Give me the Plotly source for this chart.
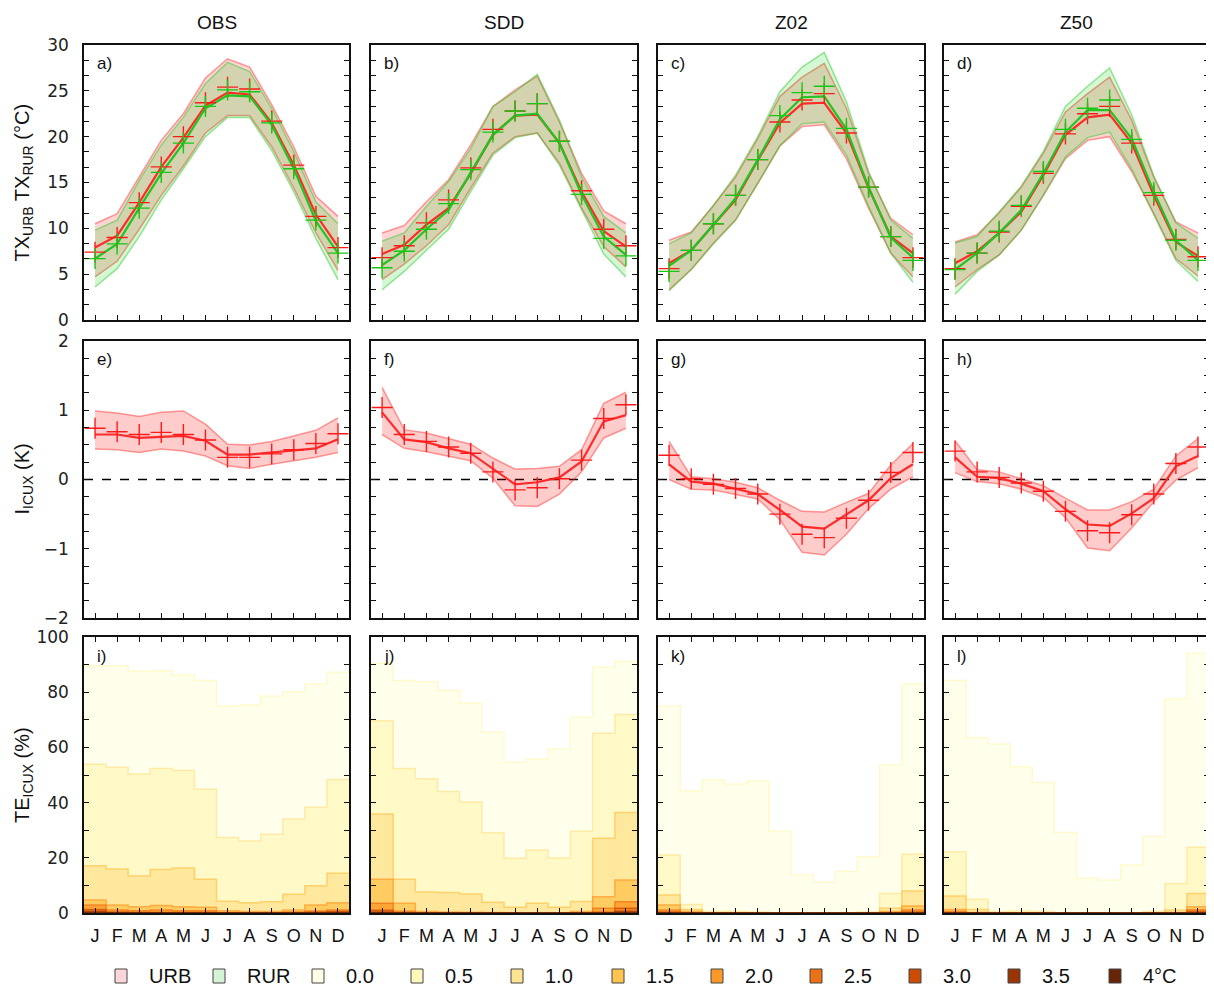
import plotly.graph_objects as go
from plotly.subplots import make_subplots

# ---------------- data ----------------
months = ["J", "F", "M", "A", "M", "J", "J", "A", "S", "O", "N", "D"]
columns = ["OBS", "SDD", "Z02", "Z50"]
panel_labels = ["a)", "b)", "c)", "d)", "e)", "f)", "g)", "h)", "i)", "j)", "k)", "l)"]
thresholds = ["0.0", "0.5", "1.0", "1.5", "2.0", "2.5", "3.0", "3.5", "4°C"]
palette = ["#ffffe5", "#fff7bc", "#fee391", "#fec44f", "#fe9929",
           "#ec7014", "#cc4c02", "#993404", "#662506"]

# Row 1: TX urban / rural (°C)
obs_urb_mean = [7.9, 9.2, 12.8, 16.7, 19.9, 23.4, 24.8, 24.6, 21.5, 16.9, 11.5, 8.0]
obs_urb_pts = [7.4, 9.0, 12.8, 16.7, 20.0, 23.7, 25.4, 25.2, 21.7, 16.9, 11.3, 7.9]
obs_urb_hi = [10.5, 11.6, 15.6, 19.6, 22.5, 26.4, 28.5, 27.6, 23.5, 18.9, 13.5, 11.3]
obs_urb_lo = [4.7, 6.4, 9.9, 13.6, 16.8, 20.4, 22.3, 22.3, 18.9, 14.4, 9.5, 5.4]
obs_rur_mean = [6.7, 8.3, 12.2, 16.0, 19.3, 23.1, 24.5, 24.4, 21.3, 16.5, 10.8, 7.3]
obs_rur_pts = [6.7, 8.3, 12.2, 16.1, 19.3, 23.3, 25.1, 24.9, 21.5, 16.5, 10.9, 7.3]
obs_rur_hi = [9.8, 10.9, 15.2, 19.1, 22.1, 25.8, 28.1, 27.1, 23.1, 18.4, 12.9, 10.5]
obs_rur_lo = [3.6, 5.6, 9.1, 13.1, 16.5, 20.0, 22.1, 22.1, 18.5, 14.0, 8.9, 4.4]

sdd_urb_mean = [7.2, 8.2, 10.4, 12.2, 16.0, 20.2, 22.3, 22.4, 19.3, 14.0, 9.7, 8.0]
sdd_urb_pts = [6.8, 8.1, 10.6, 13.1, 16.6, 20.8, 22.8, 23.6, 19.5, 14.1, 9.9, 8.1]
sdd_urb_hi = [9.5, 10.3, 12.9, 15.3, 19.1, 23.3, 25.1, 26.6, 21.6, 16.0, 11.9, 10.5]
sdd_urb_lo = [4.4, 6.1, 8.1, 10.4, 14.4, 18.2, 20.0, 20.4, 17.1, 12.2, 8.0, 5.8]
sdd_rur_mean = [6.0, 7.6, 9.9, 12.0, 16.1, 20.2, 22.3, 22.5, 19.3, 13.7, 9.1, 7.1]
sdd_rur_pts = [5.7, 7.5, 9.9, 12.7, 16.4, 20.5, 22.8, 23.6, 19.5, 13.7, 8.9, 7.0]
sdd_rur_hi = [8.6, 9.5, 12.4, 15.1, 18.7, 23.3, 24.9, 26.8, 21.8, 15.6, 11.3, 9.5]
sdd_rur_lo = [3.3, 5.3, 7.6, 9.9, 14.0, 18.0, 19.9, 20.4, 16.9, 12.0, 7.2, 4.7]

z02_urb_mean = [6.2, 7.6, 10.4, 13.1, 17.4, 21.5, 23.6, 23.7, 20.4, 14.4, 9.1, 7.3]
z02_urb_pts = [5.6, 7.6, 10.5, 13.6, 17.5, 21.6, 24.0, 24.7, 20.4, 14.5, 9.1, 6.8]
z02_urb_hi = [8.7, 9.6, 12.5, 15.6, 19.8, 24.4, 26.5, 28.0, 23.1, 16.0, 11.1, 9.3]
z02_urb_lo = [3.3, 5.5, 8.4, 10.9, 14.9, 19.0, 21.1, 21.3, 17.6, 12.2, 7.3, 4.7]
z02_rur_mean = [5.9, 7.6, 10.4, 13.3, 17.5, 21.9, 24.3, 24.4, 20.8, 14.5, 9.0, 6.8]
z02_rur_pts = [5.3, 7.6, 10.5, 13.6, 17.5, 22.3, 24.8, 25.5, 20.9, 14.5, 9.1, 6.5]
z02_rur_hi = [8.3, 9.5, 12.5, 15.8, 20.0, 24.9, 27.6, 29.2, 23.8, 16.2, 10.9, 8.9]
z02_rur_lo = [3.2, 5.5, 8.3, 10.9, 14.9, 19.0, 21.4, 21.6, 18.0, 12.4, 7.3, 4.1]

z50_urb_mean = [6.2, 7.5, 9.5, 11.8, 15.8, 20.2, 22.1, 22.4, 19.3, 13.6, 8.5, 7.0]
z50_urb_pts = [5.6, 7.3, 9.6, 12.4, 16.0, 20.3, 22.5, 23.3, 19.3, 13.6, 8.8, 6.9]
z50_urb_hi = [8.5, 9.3, 11.7, 14.5, 18.2, 22.7, 24.7, 26.5, 21.8, 15.6, 10.7, 9.5]
z50_urb_lo = [3.6, 5.5, 7.1, 9.8, 13.6, 17.6, 19.6, 20.0, 16.2, 11.6, 6.7, 4.8]
z50_rur_mean = [5.5, 7.3, 9.5, 12.0, 16.0, 20.5, 22.9, 22.9, 19.8, 14.0, 8.7, 6.5]
z50_rur_pts = [5.5, 7.3, 9.7, 12.5, 16.2, 20.8, 23.1, 24.0, 19.7, 13.9, 8.7, 6.5]
z50_rur_hi = [8.4, 9.1, 11.8, 14.6, 18.4, 23.3, 25.5, 27.5, 22.4, 15.7, 10.6, 8.9]
z50_rur_lo = [2.8, 5.3, 7.1, 9.8, 13.6, 17.8, 19.9, 20.5, 16.5, 11.5, 6.5, 4.2]

# Row 2: ICUX intensity (K)
obs_icux_mean = [0.65, 0.65, 0.60, 0.62, 0.63, 0.56, 0.36, 0.36, 0.39, 0.43, 0.45, 0.58]
obs_icux_pts = [0.74, 0.69, 0.65, 0.68, 0.65, 0.57, 0.32, 0.32, 0.37, 0.43, 0.52, 0.66]
obs_icux_hi = [0.99, 0.96, 0.91, 0.97, 0.99, 0.80, 0.51, 0.50, 0.55, 0.63, 0.71, 0.89]
obs_icux_lo = [0.44, 0.43, 0.39, 0.44, 0.41, 0.34, 0.20, 0.16, 0.22, 0.27, 0.32, 0.39]

sdd_icux_mean = [0.97, 0.58, 0.54, 0.45, 0.38, 0.15, -0.07, -0.04, 0.03, 0.26, 0.84, 0.93]
sdd_icux_pts = [1.04, 0.65, 0.55, 0.47, 0.38, 0.11, -0.15, -0.12, 0.01, 0.28, 0.88, 1.08]
sdd_icux_hi = [1.33, 0.72, 0.67, 0.59, 0.51, 0.31, 0.15, 0.16, 0.19, 0.43, 1.10, 1.26]
sdd_icux_lo = [0.65, 0.45, 0.40, 0.34, 0.27, 0.02, -0.38, -0.39, -0.21, 0.11, 0.60, 0.74]

z02_icux_mean = [0.22, -0.03, -0.06, -0.13, -0.21, -0.44, -0.68, -0.71, -0.51, -0.30, 0.02, 0.22]
z02_icux_pts = [0.35, 0.01, -0.07, -0.13, -0.21, -0.50, -0.79, -0.84, -0.56, -0.30, 0.10, 0.39]
z02_icux_hi = [0.55, 0.04, 0.01, -0.04, -0.12, -0.30, -0.46, -0.47, -0.33, -0.20, 0.21, 0.52]
z02_icux_lo = [0.00, -0.14, -0.15, -0.21, -0.28, -0.58, -1.05, -1.09, -0.79, -0.42, -0.14, 0.04]

z50_icux_mean = [0.32, 0.04, 0.02, -0.06, -0.17, -0.43, -0.65, -0.67, -0.49, -0.27, 0.19, 0.34]
z50_icux_pts = [0.41, 0.11, 0.03, -0.05, -0.17, -0.46, -0.74, -0.77, -0.51, -0.21, 0.23, 0.47]
z50_icux_hi = [0.56, 0.14, 0.11, 0.01, -0.09, -0.27, -0.44, -0.44, -0.32, -0.14, 0.34, 0.59]
z50_icux_lo = [0.10, -0.03, -0.06, -0.14, -0.26, -0.55, -0.99, -1.03, -0.70, -0.32, -0.01, 0.17]

# Row 3: exceedance frequency of ICUX thresholds (%)
obs_te_00 = [89.6, 89.6, 87.7, 87.8, 86.2, 84.2, 75.0, 75.4, 78.6, 80.2, 83.0, 87.2]
obs_te_05 = [53.9, 52.8, 50.4, 52.4, 51.6, 44.8, 27.4, 26.1, 28.5, 34.1, 38.3, 48.4]
obs_te_10 = [17.1, 15.9, 13.4, 15.8, 16.3, 12.2, 4.3, 3.7, 4.1, 6.8, 9.9, 14.4]
obs_te_15 = [4.7, 2.9, 2.3, 2.7, 2.3, 2.1, 0.8, 0.5, 0.5, 1.1, 2.9, 3.7]
obs_te_20 = [2.9, 1.1, 0.8, 1.1, 0.8, 0.8, 0.2, 0.1, 0.1, 0.4, 0.7, 1.1]
obs_te_25 = [1.3, 0.4, 0.2, 0.2, 0.2, 0.2, 0.0, 0.0, 0.0, 0.1, 0.3, 0.5]
obs_te_30 = [0.5, 0.1, 0.0, 0.0, 0.0, 0.0, 0.0, 0.0, 0.0, 0.0, 0.0, 0.2]
obs_te_35 = [0.0] * 12
obs_te_40 = [0.0] * 12

sdd_te_00 = [90.5, 84.2, 83.8, 80.6, 76.0, 65.5, 54.6, 55.7, 59.4, 70.9, 89.0, 91.1]
sdd_te_05 = [69.7, 52.4, 48.6, 44.0, 40.2, 29.1, 19.8, 22.8, 19.9, 29.6, 65.1, 71.9]
sdd_te_10 = [35.9, 12.2, 7.6, 7.4, 6.9, 3.9, 2.1, 3.5, 2.1, 4.2, 27.1, 36.4]
sdd_te_15 = [12.2, 3.5, 0.5, 0.4, 0.3, 0.2, 0.1, 0.1, 0.1, 0.5, 5.9, 12.0]
sdd_te_20 = [3.5, 0.6, 0.1, 0.1, 0.1, 0.0, 0.0, 0.0, 0.0, 0.1, 1.7, 4.1]
sdd_te_25 = [1.0, 0.1, 0.0, 0.0, 0.0, 0.0, 0.0, 0.0, 0.0, 0.0, 0.3, 1.7]
sdd_te_30 = [0.3, 0.0, 0.0, 0.0, 0.0, 0.0, 0.0, 0.0, 0.0, 0.0, 0.0, 0.5]
sdd_te_35 = [0.1, 0.0, 0.0, 0.0, 0.0, 0.0, 0.0, 0.0, 0.0, 0.0, 0.0, 0.1]
sdd_te_40 = [0.0] * 12

z02_te_00 = [75.0, 44.3, 48.2, 46.7, 47.8, 29.7, 13.8, 11.1, 15.0, 20.4, 53.6, 82.9]
z02_te_05 = [21.0, 3.1, 0.5, 0.5, 0.4, 0.1, 0.0, 0.0, 0.0, 0.4, 7.1, 21.3]
z02_te_10 = [6.5, 1.3, 0.0, 0.0, 0.0, 0.0, 0.0, 0.0, 0.0, 0.0, 1.7, 8.0]
z02_te_15 = [2.9, 0.5, 0.0, 0.0, 0.0, 0.0, 0.0, 0.0, 0.0, 0.0, 0.5, 2.5]
z02_te_20 = [1.1, 0.0, 0.0, 0.0, 0.0, 0.0, 0.0, 0.0, 0.0, 0.0, 0.0, 1.1]
z02_te_25 = [0.4, 0.0, 0.0, 0.0, 0.0, 0.0, 0.0, 0.0, 0.0, 0.0, 0.0, 0.4]
z02_te_30 = [0.0] * 12
z02_te_35 = [0.0] * 12
z02_te_40 = [0.0] * 12

z50_te_00 = [84.2, 63.5, 61.2, 53.0, 47.3, 29.2, 12.6, 12.0, 17.4, 27.7, 77.5, 94.1]
z50_te_05 = [22.2, 5.0, 0.5, 0.7, 0.5, 0.1, 0.0, 0.0, 0.0, 0.5, 10.7, 23.8]
z50_te_10 = [6.2, 1.3, 0.0, 0.0, 0.0, 0.0, 0.0, 0.0, 0.0, 0.0, 1.1, 7.1]
z50_te_15 = [1.3, 0.2, 0.0, 0.0, 0.0, 0.0, 0.0, 0.0, 0.0, 0.0, 0.2, 2.3]
z50_te_20 = [0.5, 0.0, 0.0, 0.0, 0.0, 0.0, 0.0, 0.0, 0.0, 0.0, 0.0, 1.2]
z50_te_25 = [0.0, 0.0, 0.0, 0.0, 0.0, 0.0, 0.0, 0.0, 0.0, 0.0, 0.0, 0.5]
z50_te_30 = [0.0] * 12
z50_te_35 = [0.0] * 12
z50_te_40 = [0.0] * 12

# ---------------- assembly ----------------
row1 = [
    (obs_urb_mean, obs_urb_pts, obs_urb_hi, obs_urb_lo, obs_rur_mean, obs_rur_pts, obs_rur_hi, obs_rur_lo),
    (sdd_urb_mean, sdd_urb_pts, sdd_urb_hi, sdd_urb_lo, sdd_rur_mean, sdd_rur_pts, sdd_rur_hi, sdd_rur_lo),
    (z02_urb_mean, z02_urb_pts, z02_urb_hi, z02_urb_lo, z02_rur_mean, z02_rur_pts, z02_rur_hi, z02_rur_lo),
    (z50_urb_mean, z50_urb_pts, z50_urb_hi, z50_urb_lo, z50_rur_mean, z50_rur_pts, z50_rur_hi, z50_rur_lo),
]
row2 = [
    (obs_icux_mean, obs_icux_pts, obs_icux_hi, obs_icux_lo),
    (sdd_icux_mean, sdd_icux_pts, sdd_icux_hi, sdd_icux_lo),
    (z02_icux_mean, z02_icux_pts, z02_icux_hi, z02_icux_lo),
    (z50_icux_mean, z50_icux_pts, z50_icux_hi, z50_icux_lo),
]
row3 = [
    [obs_te_00, obs_te_05, obs_te_10, obs_te_15, obs_te_20, obs_te_25, obs_te_30, obs_te_35, obs_te_40],
    [sdd_te_00, sdd_te_05, sdd_te_10, sdd_te_15, sdd_te_20, sdd_te_25, sdd_te_30, sdd_te_35, sdd_te_40],
    [z02_te_00, z02_te_05, z02_te_10, z02_te_15, z02_te_20, z02_te_25, z02_te_30, z02_te_35, z02_te_40],
    [z50_te_00, z50_te_05, z50_te_10, z50_te_15, z50_te_20, z50_te_25, z50_te_30, z50_te_35, z50_te_40],
]

# the page body keeps its default 8px margin; size the figure to fill the window from there
OFF = 8
W, H = 1214 - OFF, 992 - OFF


def px(xp):
    return (xp - OFF) / W


def py(yp):
    return 1 - (yp - OFF) / H


col_px = [(84, 349), (371, 637), (658, 924), (944, 1209)]
row_px = [(45, 320), (341, 618), (637, 913)]

x = list(range(12))

RED = "#ff2a2a"
GREEN = "#22c422"
RED_PT = "#ff1a1a"
GREEN_PT = "#14c814"
RED_FILL = "rgba(255,0,0,0.17)"
GREEN_FILL = "rgba(0,205,0,0.17)"
RED_EDGE = "rgba(255,40,40,0.45)"
GREEN_EDGE = "rgba(30,200,30,0.45)"


def hex_rgba(h, a):
    h = h.lstrip("#")
    return "rgba(%d,%d,%d,%.2f)" % (int(h[0:2], 16), int(h[2:4], 16), int(h[4:6], 16), a)


fig = make_subplots(rows=3, cols=4)


def add_band(r, c, lo, hi, edge, fill):
    fig.add_trace(go.Scatter(x=x, y=lo, mode="lines", line=dict(color=edge, width=1.5),
                             showlegend=False, hoverinfo="skip"), row=r, col=c)
    fig.add_trace(go.Scatter(x=x, y=hi, mode="lines", line=dict(color=edge, width=1.5),
                             fill="tonexty", fillcolor=fill, showlegend=False, hoverinfo="skip"),
                  row=r, col=c)


def add_line(r, c, mean, color):
    fig.add_trace(go.Scatter(x=x, y=mean, mode="lines", line=dict(color=color, width=2.2),
                             showlegend=False), row=r, col=c)


def add_pts(r, c, pts, color):
    fig.add_trace(go.Scatter(x=x, y=pts, mode="markers",
                             marker=dict(symbol="cross-thin", size=15,
                                         line=dict(color=color, width=1.4)),
                             showlegend=False), row=r, col=c)


for ci in range(4):
    um, up, uh, ul, rm, rp, rh, rl = row1[ci]
    add_band(1, ci + 1, ul, uh, RED_EDGE, RED_FILL)
    add_band(1, ci + 1, rl, rh, GREEN_EDGE, GREEN_FILL)
    add_line(1, ci + 1, um, RED)
    add_line(1, ci + 1, rm, GREEN)
    add_pts(1, ci + 1, up, RED_PT)
    add_pts(1, ci + 1, rp, GREEN_PT)

    im, ip, ih, il = row2[ci]
    fig.add_trace(go.Scatter(x=[-0.5, 11.5], y=[0, 0], mode="lines",
                             line=dict(color="black", width=1.5, dash="dash"),
                             showlegend=False, hoverinfo="skip"), row=2, col=ci + 1)
    add_band(2, ci + 1, il, ih, RED_EDGE, "rgba(255,0,0,0.2)")
    add_line(2, ci + 1, im, RED)
    add_pts(2, ci + 1, ip, RED_PT)

    xs = [-0.5] + x + [11.5]
    for k, layer in enumerate(row3[ci]):
        ys = [layer[0]] + list(layer) + [layer[-1]]
        edge_col = palette[min(k + 1, len(palette) - 1)]
        fig.add_trace(go.Scatter(x=xs, y=ys, mode="lines",
                                 line=dict(shape="hvh", color=hex_rgba(edge_col, 0.7), width=1.5),
                                 fill="tozeroy", fillcolor=hex_rgba(palette[k], 0.78),
                                 showlegend=False, hoverinfo="skip"),
                      row=3, col=ci + 1)

TICKFONT = dict(family="DejaVu Sans, Verdana, sans-serif", size=17, color="#222")
yranges = [(0, 30), (-2, 2), (0, 100)]
ydticks = [5, 1, 20]
yminor = [5 / 3, 0.25, 10]

for ri in range(3):
    for ci in range(4):
        idx = ri * 4 + ci + 1
        xa = "xaxis" if idx == 1 else "xaxis%d" % idx
        ya = "yaxis" if idx == 1 else "yaxis%d" % idx
        x0, x1 = col_px[ci]
        y0, y1 = row_px[ri]
        fig.layout[xa].update(
            domain=[px(x0), px(x1)], range=[-0.5, 11.5], automargin=False,
            tickmode="array", tickvals=x, ticktext=months, showticklabels=(ri == 2),
            ticks="inside", ticklen=5, tickwidth=1.3, tickcolor="#111",
            showline=True, linecolor="#111", linewidth=1.5,
            mirror="ticks" if ri == 2 else True,
            showgrid=False, zeroline=False,
            tickfont=dict(family="Liberation Sans, Arial, sans-serif", size=18, color="#111"),
            ticklabelstandoff=6,
        )
        fig.layout[ya].update(
            domain=[py(y1), py(y0)], range=list(yranges[ri]), automargin=False,
            tick0=0, dtick=ydticks[ri],
            ticks="inside", ticklen=5, tickwidth=1.3, tickcolor="#111",
            minor=dict(dtick=yminor[ri], tick0=0, ticks="inside", ticklen=5, tickwidth=1.3, tickcolor="#111"),
            showline=True, linecolor="#111", linewidth=1.5, mirror="ticks",
            showgrid=False, zeroline=False,
            showticklabels=(ci == 0), tickfont=TICKFONT, ticklabelstandoff=10,
        )

annotations = []
for ci, name in enumerate(columns):
    x0, x1 = col_px[ci]
    annotations.append(dict(x=px((x0 + x1) / 2), y=py(22), xref="paper", yref="paper",
                            text=name, showarrow=False, xanchor="center", yanchor="middle",
                            font=dict(family="Liberation Sans, Arial, sans-serif", size=19, color="#111")))
for ri in range(3):
    for ci in range(4):
        x0, _ = col_px[ci]
        y0, _ = row_px[ri]
        annotations.append(dict(x=px(x0 + 11), y=py(y0 + 19), xref="paper", yref="paper",
                                xanchor="left", yanchor="middle",
                                text=panel_labels[ri * 4 + ci], showarrow=False,
                                font=dict(family="Liberation Sans, Arial, sans-serif", size=17, color="#111")))
ytitles = ["TX<sub>URB</sub> TX<sub>RUR</sub> (°C)", "I<sub>ICUX</sub> (K)", "TE<sub>ICUX</sub> (%)"]
for ri in range(3):
    y0, y1 = row_px[ri]
    annotations.append(dict(x=px(23), y=py((y0 + y1) / 2), xref="paper", yref="paper",
                            text=ytitles[ri], textangle=-90, showarrow=False,
                            xanchor="center", yanchor="middle",
                            font=dict(family="Liberation Sans, Arial, sans-serif", size=20, color="#111")))

legend_labels = ["URB", "RUR"] + thresholds
legend_fill = ["#fbd5d8", "#d5f3d5"] + palette
legend_x = [121, 219, 318, 417, 517, 618, 717, 816, 915, 1014, 1115]
ly = 976
for lab, colr, lx in zip(legend_labels, legend_fill, legend_x):
    fig.add_shape(type="rect", xref="paper", yref="paper",
                  x0=px(lx - 6), x1=px(lx + 6), y0=py(ly + 7), y1=py(ly - 7),
                  fillcolor=colr, line=dict(color="#444", width=1))
    annotations.append(dict(x=px(lx + 26), y=py(ly), xref="paper", yref="paper",
                            xanchor="left", yanchor="middle", text=lab, showarrow=False,
                            font=dict(family="Liberation Sans, Arial, sans-serif", size=20, color="#111")))

fig.update_layout(
    width=W, height=H, margin=dict(l=0, r=0, t=0, b=0, autoexpand=False),
    plot_bgcolor="white", paper_bgcolor="white",
    showlegend=False, annotations=annotations,
)

fig.write_html("out.html")
